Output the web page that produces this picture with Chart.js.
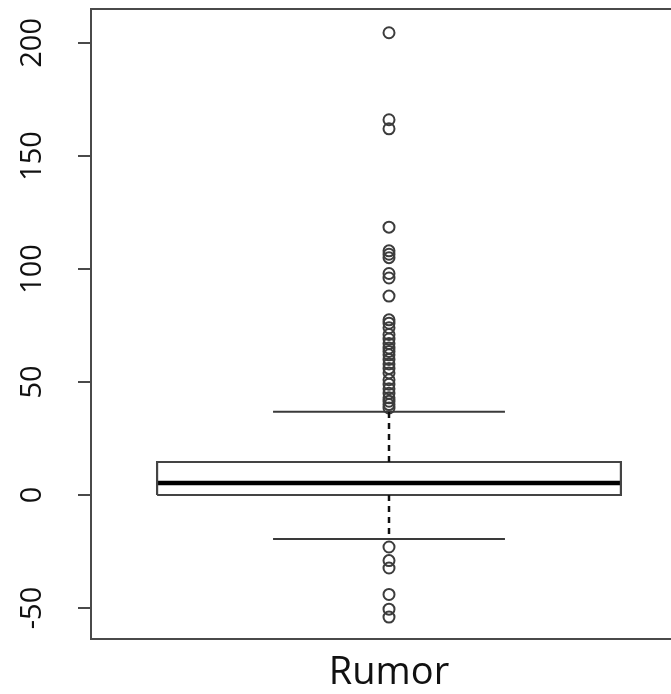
<!DOCTYPE html>
<html>
<head>
<meta charset="utf-8">
<script src="https://cdn.jsdelivr.net/npm/chart.js@4.4.1/dist/chart.umd.min.js"></script>
<style>
  html, body { margin: 0; padding: 0; background: #fff; overflow: hidden; }
  #wrap { width: 671px; height: 694px; overflow: hidden; }
</style>
</head>
<body>
<div id="wrap"><canvas id="box" width="700" height="694"></canvas></div>
<script>
// data
const categories = ["Rumor"];
const whiskerLow = [-19.5];
const quartile1 = [0];
const medians = [5.3];
const quartile3 = [14.6];
const whiskerHigh = [36.8];
const outliersHigh = [204.5, 166, 162, 118.5, 108, 106.5, 105, 98, 96, 88, 77.5, 76, 74, 71, 69,
  67, 65, 63.5, 62, 60, 58, 56, 54, 51, 49, 47, 45, 43, 41.5, 40, 38.5];
const outliersLow = [-23, -29, -32.3, -44, -50.5, -54];
const yTicks = [-50, 0, 50, 100, 150, 200];

const BOX_HALF = 0.4;
const STAPLE_HALF = 0.2;
const center = 1;

function seg(points, extra) {
  return Object.assign({
    type: "scatter",
    data: points,
    showLine: true,
    pointRadius: 0,
    pointHoverRadius: 0,
    borderColor: "#3a3a3a",
    borderWidth: 2,
    fill: false
  }, extra || {});
}

const framePlugin = {
  id: "frame",
  afterDraw(chart) {
    const { ctx, chartArea: a } = chart;
    ctx.save();
    ctx.strokeStyle = "#4a4a4a";
    ctx.lineWidth = 2;
    ctx.strokeRect(a.left, a.top, a.right - a.left, a.bottom - a.top);
    ctx.restore();
  }
};

const ctx = document.getElementById("box").getContext("2d");
new Chart(ctx, {
  type: "scatter",
  data: {
    datasets: [
      seg([{ x: center, y: quartile3[0] }, { x: center, y: whiskerHigh[0] }], { borderDash: [6, 5], borderColor: "#111", borderWidth: 2.5 }),
      seg([{ x: center, y: quartile1[0] }, { x: center, y: whiskerLow[0] }], { borderDash: [6, 5], borderColor: "#111", borderWidth: 2.5 }),
      seg([{ x: center - STAPLE_HALF, y: whiskerHigh[0] }, { x: center + STAPLE_HALF, y: whiskerHigh[0] }]),
      seg([{ x: center - STAPLE_HALF, y: whiskerLow[0] }, { x: center + STAPLE_HALF, y: whiskerLow[0] }]),
      seg([
        { x: center - BOX_HALF, y: quartile1[0] },
        { x: center + BOX_HALF, y: quartile1[0] },
        { x: center + BOX_HALF, y: quartile3[0] },
        { x: center - BOX_HALF, y: quartile3[0] },
        { x: center - BOX_HALF, y: quartile1[0] }
      ], { borderColor: "#444", borderWidth: 2.2 }),
      seg([{ x: center - BOX_HALF, y: medians[0] }, { x: center + BOX_HALF, y: medians[0] }], { borderColor: "#000", borderWidth: 4.5 }),
      {
        type: "scatter",
        data: outliersHigh.concat(outliersLow).map((v) => ({ x: center, y: v })),
        pointStyle: "circle",
        pointRadius: 5.5,
        pointBorderWidth: 2,
        pointBorderColor: "#3c3c3c",
        pointBackgroundColor: "rgba(0,0,0,0)"
      }
    ]
  },
  options: {
    responsive: false,
    animation: false,
    layout: { padding: { left: 0, top: 9, right: 13, bottom: 0 } },
    plugins: { legend: { display: false }, tooltip: { enabled: false } },
    scales: {
      x: {
        type: "linear",
        min: 0.486,
        max: 1.514,
        afterBuildTicks: (s) => { s.ticks = [{ value: center }]; },
        afterFit: (s) => { s.height = 55; s.paddingLeft = 0; s.paddingRight = 0; },
        grid: { display: false, drawTicks: false },
        border: { display: false },
        ticks: {
          padding: 11,
          color: "#111",
          font: { family: '"Open Sans", sans-serif', size: 38 },
          callback: () => categories[0]
        }
      },
      y: {
        min: -63.7,
        max: 215,
        afterBuildTicks: (s) => { s.ticks = yTicks.map((v) => ({ value: v })); },
        afterFit: (s) => { s.width = 91; s.paddingTop = 0; s.paddingBottom = 0; },
        grid: { drawOnChartArea: false, tickLength: 13, color: "#4a4a4a", lineWidth: 2 },
        border: { display: false },
        ticks: {
          minRotation: 90,
          maxRotation: 90,
          crossAlign: "center",
          padding: 20,
          color: "#111",
          font: { family: '"Open Sans", sans-serif', size: 29 }
        }
      }
    }
  },
  plugins: [framePlugin]
});
</script>
</body>
</html>
